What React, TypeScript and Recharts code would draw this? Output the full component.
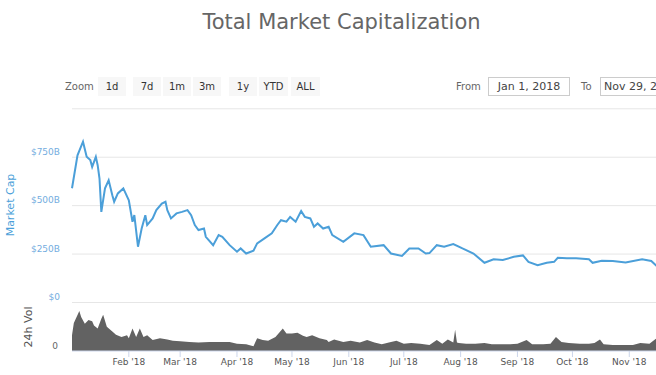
import React from "react";
import { LineChart, Line, AreaChart, Area, XAxis, YAxis, CartesianGrid } from "recharts";

// market cap, billions USD
const capDates = [
  "01-01", "01-04", "01-07", "01-09", "01-11", "01-12", "01-14", "01-15", "01-16", "01-17",
  "01-19", "01-21", "01-23", "01-24", "01-26", "01-29", "02-01", "02-03", "02-04", "02-06",
  "02-08", "02-10", "02-11", "02-14", "02-16", "02-19", "02-21", "02-22", "02-24", "02-27",
  "03-02", "03-05", "03-07", "03-09", "03-11", "03-14", "03-15", "03-19", "03-22", "03-24",
  "03-28", "04-01", "04-03", "04-06", "04-10", "04-12", "04-16", "04-20", "04-23", "04-25",
  "04-28", "04-30", "05-03", "05-06", "05-08", "05-11", "05-13", "05-15", "05-18", "05-21",
  "05-23", "05-29", "06-04", "06-09", "06-13", "06-20", "06-24", "06-30", "07-04", "07-09",
  "07-13", "07-15", "07-19", "07-23", "07-28", "08-02", "08-08", "08-14", "08-19", "08-24",
  "08-30", "09-04", "09-07", "09-12", "09-17", "09-21", "09-23", "09-28", "10-03", "10-10",
  "10-12", "10-17", "10-23", "10-30", "11-08", "11-13", "11-16", "11-20", "11-25", "11-29",
];
const capValues = [
  590, 760, 830, 752, 735, 700, 752, 709, 640, 468,
  589, 631, 554, 520, 563, 589, 528, 417, 451, 288,
  382, 451, 400, 434, 477, 511, 520, 477, 434, 460,
  468, 477, 451, 400, 374, 382, 339, 296, 348, 339,
  296, 262, 279, 253, 267, 305, 331, 357, 400, 425,
  417, 442, 417, 472, 442, 434, 391, 408, 382, 391,
  348, 313, 357, 348, 288, 296, 253, 240, 279, 279,
  253, 255, 296, 288, 302, 279, 253, 205, 223, 219,
  236, 243, 210, 193, 205, 210, 231, 228, 228, 223,
  205, 215, 214, 207, 223, 214, 188, 150, 118, 125,
];

// 24h volume, billions USD
const volDates = [
  "01-01", "01-02", "01-05", "01-06", "01-08", "01-10", "01-12", "01-13", "01-15", "01-17",
  "01-18", "01-20", "01-23", "01-25", "01-28", "01-31", "02-01", "02-03", "02-05", "02-07",
  "02-09", "02-11", "02-14", "02-18", "02-22", "02-25", "03-01", "03-06", "03-11", "03-17",
  "03-22", "03-28", "04-01", "04-06", "04-10", "04-12", "04-15", "04-18", "04-22", "04-26",
  "04-28", "05-01", "05-04", "05-07", "05-09", "05-12", "05-16", "05-20", "05-21", "05-24",
  "05-29", "06-02", "06-07", "06-11", "06-15", "06-19", "06-24", "06-27", "07-01", "07-05",
  "07-10", "07-15", "07-19", "07-22", "07-25", "07-28", "07-29", "07-30", "07-31", "08-04",
  "08-09", "08-14", "08-18", "08-24", "08-28", "09-01", "09-06", "09-09", "09-15", "09-19",
  "09-22", "09-25", "09-29", "10-05", "10-10", "10-13", "10-16", "10-18", "10-23", "10-28",
  "11-03", "11-07", "11-12", "11-15", "11-20", "11-25", "11-29",
];
const volValues = [
  26, 46, 66, 56, 45, 51, 49, 42, 37, 53,
  60, 40, 32, 27, 23, 26, 21, 37, 23, 37,
  23, 26, 18, 21, 19, 17, 16, 15, 14, 15,
  15, 15, 12, 11, 8, 21, 18, 17, 23, 37,
  29, 29, 30, 25, 23, 26, 21, 18, 15, 19,
  15, 17, 14, 18, 14, 11, 15, 17, 12, 13,
  12, 10, 18, 12, 19, 14, 35, 14, 13, 12,
  12, 13, 11, 11, 11, 12, 18, 11, 11, 12,
  23, 15, 13, 12, 12, 13, 19, 11, 10, 10,
  10, 13, 12, 19, 30, 25, 18,
];

const monthTicks = ["02-01", "03-01", "04-01", "05-01", "06-01", "07-01", "08-01", "09-01", "10-01", "11-01"];
const monthNames = ["Jan", "Feb", "Mar", "Apr", "May", "Jun", "Jul", "Aug", "Sep", "Oct", "Nov", "Dec"];
const capTicks = [0, 250, 500, 750, 1000];
const zoomButtons = ["1d", "7d", "1m", "3m", "1y", "YTD", "ALL"];
const buttonLefts = [98, 133, 163, 193, 229, 259, 291];
const fromDate = "Jan 1, 2018";
const toDate = "Nov 29, 2018";

const ts = (md: string) => {
  const [m, d] = md.split("-").map(Number);
  return Date.UTC(2018, m - 1, d);
};
const START = ts("01-01");
const END = ts("11-29");

const capData = capDates.map((d, i) => ({ t: ts(d), v: capValues[i] }));
const volData = volDates.map((d, i) => ({ t: ts(d), v: volValues[i] }));
const monthTickTs = monthTicks.map(ts);

const BLUE = "#4b9fd9";
const FONT = "'DejaVu Sans', sans-serif";

const CapTick = (props: any) => {
  const { y, payload } = props;
  if (payload.value === 1000) return <g />;
  const label = payload.value === 0 ? "$0" : `$${payload.value}B`;
  return (
    <text x={60} y={y - 5.5} dy="0.35em" textAnchor="end" fontSize={9} fill="#74ade0">
      {label}
    </text>
  );
};

const VolTick = (props: any) => {
  const { y, payload } = props;
  return (
    <text x={58} y={y - 5.5} dy="0.35em" textAnchor="end" fontSize={9} fill="#666">
      {payload.value}
    </text>
  );
};

const fmtMonth = (t: number) => {
  const d = new Date(t);
  return `${monthNames[d.getUTCMonth()]} '18`;
};

const boxText: React.CSSProperties = {
  position: "absolute",
  top: 77,
  height: 19,
  lineHeight: "19px",
  fontSize: 10,
  whiteSpace: "nowrap",
};

export default function App() {
  return (
    <div
      style={{
        position: "absolute",
        left: 0,
        top: 0,
        width: 656,
        height: 375,
        overflow: "hidden",
        background: "#fff",
        fontFamily: FONT,
      }}
    >
      <div
        style={{
          position: "absolute",
          left: 0,
          top: 11.5,
          width: 683,
          textAlign: "center",
          fontSize: 21,
          lineHeight: "21px",
          color: "#666",
        }}
      >
        Total Market Capitalization
      </div>

      <div style={{ ...boxText, left: 65, color: "#666" }}>Zoom</div>
      {zoomButtons.map((b, i) => (
        <div
          key={b}
          style={{
            ...boxText,
            left: buttonLefts[i],
            width: b.length > 2 ? 29 : 28,
            background: "#f7f7f7",
            color: "#333",
            textAlign: "center",
          }}
        >
          {b}
        </div>
      ))}

      <div style={{ ...boxText, left: 456, color: "#666" }}>From</div>
      <div
        style={{
          ...boxText,
          left: 488,
          width: 80,
          height: 17,
          lineHeight: "17px",
          border: "1px solid #ccc",
          textAlign: "center",
          fontSize: 11,
          color: "#444",
        }}
      >
        {fromDate}
      </div>
      <div style={{ ...boxText, left: 581, color: "#666" }}>To</div>
      <div
        style={{
          ...boxText,
          left: 600,
          width: 80,
          height: 17,
          lineHeight: "17px",
          border: "1px solid #ccc",
          textAlign: "center",
          fontSize: 11,
          color: "#444",
        }}
      >
        {toDate}
      </div>

      <div
        style={{
          position: "absolute",
          left: 9.5,
          top: 204.5,
          transform: "translate(-50%, -50%) rotate(-90deg)",
          whiteSpace: "nowrap",
          fontSize: 11,
          color: BLUE,
        }}
      >
        Market Cap
      </div>
      <div
        style={{
          position: "absolute",
          left: 28,
          top: 326.7,
          transform: "translate(-50%, -50%) rotate(-90deg)",
          whiteSpace: "nowrap",
          fontSize: 11,
          color: "#555",
        }}
      >
        24h Vol
      </div>

      <div style={{ position: "absolute", left: 0, top: 100 }}>
        <LineChart
          width={700}
          height={210}
          data={capData}
          margin={{ top: 8.8, right: 19.4, left: 0, bottom: 7.5 }}
        >
          <CartesianGrid vertical={false} stroke="#e6e6e6" />
          <XAxis dataKey="t" type="number" domain={[START, END]} hide />
          <YAxis
            domain={[0, 1000]}
            ticks={capTicks}
            interval={0}
            width={72}
            axisLine={false}
            tickLine={false}
            tick={(p: any) => <CapTick {...p} />}
          />
          <Line
            dataKey="v"
            type="linear"
            stroke={BLUE}
            strokeWidth={2}
            dot={false}
            isAnimationActive={false}
          />
        </LineChart>
      </div>

      <div style={{ position: "absolute", left: 0, top: 295 }}>
        <AreaChart
          width={700}
          height={80}
          data={volData}
          margin={{ top: 7.5, right: 19.4, left: 0, bottom: 0 }}
        >
          <XAxis
            dataKey="t"
            type="number"
            domain={[START, END]}
            ticks={monthTickTs}
            interval={0}
            tickFormatter={fmtMonth}
            height={24}
            tickSize={6}
            tickMargin={2}
            stroke="#ccd6eb"
            tick={{ fontSize: 9, fill: "#555" }}
          />
          <YAxis
            domain={[0, 80]}
            ticks={[0]}
            interval={0}
            width={72}
            axisLine={false}
            tickLine={false}
            tick={(p: any) => <VolTick {...p} />}
          />
          <Area
            dataKey="v"
            type="linear"
            stroke="none"
            fill="#626262"
            fillOpacity={1}
            isAnimationActive={false}
          />
        </AreaChart>
      </div>
    </div>
  );
}
